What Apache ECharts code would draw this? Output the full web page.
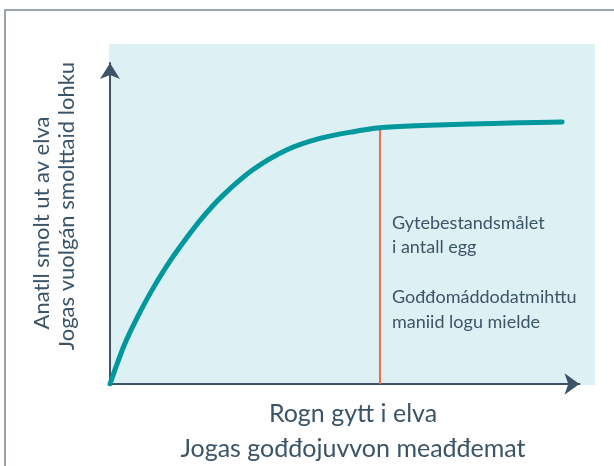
<!DOCTYPE html>
<html>
<head>
<meta charset="utf-8">
<script src="https://cdn.jsdelivr.net/npm/echarts@6/dist/echarts.min.js"></script>
<style>
  html, body { margin: 0; padding: 0; background: #fff; }
  #chart { width: 614px; height: 466px; }
</style>
</head>
<body>
<div id="chart"></div>
<script>
// kurve: rogn gytt (x) mot smolt ut (y), relative enheter 0-100
const curveX = [0, 3, 6, 9, 12, 15, 19.5, 24, 30.5, 37.6, 44.7, 51.8, 57.5, 66.5, 76.7, 87, 96.3]
const curveY = [0, 12, 21.3, 29.4, 36.6, 42.9, 51.5, 58.7, 66.8, 72.9, 76.5, 78.6, 79.8, 80.5, 81.0, 81.35, 81.6]
// gytebestandsmålet
const targetX = 57.5
const targetY = [0, 79.8]

const yTitle = ['Anatll smolt ut av elva', 'Jogas vuolgán smolttaid lohku']
const xTitle = ['Rogn gytt i elva', 'Jogas gođđojuvvon meađđemat']
const note = ['Gytebestandsmålet', 'i antall egg', 'Gođđomáddodatmihttu', 'maniid logu mielde']

const textColor = '#3b5468'
const font = 'Lato, "Open Sans", sans-serif'

const chart = echarts.init(document.getElementById('chart'))

const option = {
    backgroundColor: '#fff',
    animation: false,
    grid: { left: 110, right: 34.5, top: 63, bottom: 82 },
    xAxis: {
        type: 'value', min: 0, max: 100,
        axisLabel: { show: false }, axisTick: { show: false }, splitLine: { show: false },
        axisLine: {
            lineStyle: { color: '#3d5468', width: 2 },
            symbol: ['none', 'arrow'], symbolSize: [16, 15]
        }
    },
    yAxis: {
        type: 'value', min: 0, max: 100,
        axisLabel: { show: false }, axisTick: { show: false }, splitLine: { show: false },
        axisLine: {
            onZero: false,
            lineStyle: { color: '#3d5468', width: 2 },
            symbol: ['none', 'arrow'], symbolSize: [15, 16]
        }
    },
    graphic: [
        // ramme
        { type: 'rect', shape: { x: 5, y: 10, width: 640, height: 480 },
          style: { fill: 'none', stroke: '#9aa4ae', lineWidth: 2 }, z: -20 },
        // bakgrunn
        { type: 'rect', shape: { x: 109, y: 44, width: 486, height: 341 },
          style: { fill: '#ddf1f4' }, z: -10 },
        { type: 'text', x: 42, y: 223, rotation: Math.PI / 2,
          style: { text: yTitle[0], fill: textColor, font: '22px ' + font, textAlign: 'center', textVerticalAlign: 'middle' } },
        { type: 'text', x: 67, y: 206, rotation: Math.PI / 2,
          style: { text: yTitle[1], fill: textColor, font: '22px ' + font, textAlign: 'center', textVerticalAlign: 'middle' } },
        { type: 'text', x: 353, y: 414,
          style: { text: xTitle[0], fill: textColor, font: '25px ' + font, textAlign: 'center', textVerticalAlign: 'middle' } },
        { type: 'text', x: 353, y: 449,
          style: { text: xTitle[1], fill: textColor, font: '25px ' + font, textAlign: 'center', textVerticalAlign: 'middle' } },
        { type: 'text', x: 392, y: 223,
          style: { text: note[0], fill: textColor, font: '18px ' + font, textVerticalAlign: 'middle' } },
        { type: 'text', x: 392, y: 247,
          style: { text: note[1], fill: textColor, font: '18px ' + font, textVerticalAlign: 'middle' } },
        { type: 'text', x: 392, y: 297,
          style: { text: note[2], fill: textColor, font: '18px ' + font, textVerticalAlign: 'middle' } },
        { type: 'text', x: 392, y: 322,
          style: { text: note[3], fill: textColor, font: '18px ' + font, textVerticalAlign: 'middle' } }
    ],
    series: [
        {
            type: 'line',
            data: targetY.map(v => [targetX, v]),
            showSymbol: false,
            lineStyle: { color: '#f26a4b', width: 2 },
            z: 2
        },
        {
            type: 'line',
            data: curveX.map((x, i) => [x, curveY[i]]),
            smooth: 0.3,
            showSymbol: false,
            lineStyle: { color: '#00979d', width: 5, cap: 'round' },
            z: 3
        }
    ]
}

chart.setOption(option)
</script>
</body>
</html>
